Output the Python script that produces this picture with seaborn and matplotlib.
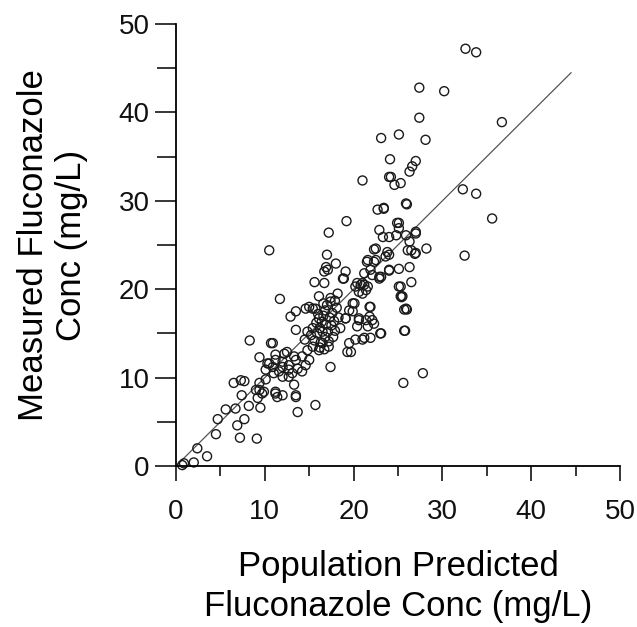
import matplotlib
matplotlib.use("Agg")
import matplotlib.pyplot as plt
import seaborn as sns
import pandas as pd

# population predicted (x) vs measured (y) fluconazole conc
predicted = [
    0.7, 0.9, 2.0, 2.4, 3.5, 4.5, 4.7, 5.6, 6.7, 6.9, 7.2, 7.4, 7.7, 8.2, 9.1, 9.2, 9.5,
    7.3, 7.7, 6.5, 9.4, 9.9, 11.2, 11.4, 10.1, 13.3, 13.5, 13.7, 15.7, 8.3, 10.7, 9.4,
    11.2, 10.3, 10.9, 12.5, 13.3, 12.0, 11.6, 12.7, 13.7,
    10.5, 17.0, 18.0, 16.9, 17.1, 16.7, 19.1, 18.9, 21.5, 22.3, 21.2, 22.1, 15.6, 16.7,
    20.4, 21.2, 20.6, 18.2, 16.1, 17.4, 11.7, 15.0, 13.5, 12.9, 19.9, 21.8, 19.5, 20.6,
    21.4, 22.1, 20.4, 21.6, 19.1, 13.5, 10.9, 19.5, 20.2, 21.2, 19.3, 17.4,
    10.5, 11.2, 12.2, 12.0, 12.7, 13.5, 14.2, 14.8, 15.4, 16.1, 16.5, 17.2, 13.1, 14.2,
    12.0, 12.7, 11.0, 10.1, 9.4, 9.0, 9.7, 11.2, 12.0, 13.5, 15.0, 14.6,
    15.6, 15.9, 16.2, 16.4, 16.6, 16.8, 17.0, 17.3, 17.5, 17.1, 16.8, 16.3, 15.8, 16.0,
    17.6, 17.8, 17.9, 18.1, 17.2, 16.5, 16.9, 16.1, 15.4, 15.2, 17.4, 16.6, 18.3, 16.2,
    17.7, 15.7, 14.8, 14.5, 18.5, 16.7, 17.9,
    18.8, 14.6, 15.4, 20.2, 21.4, 19.9, 20.6, 21.8, 22.3, 19.1, 21.0, 22.9, 21.0, 21.6,
    25.3, 25.5, 20.1, 21.9, 23.0, 25.7, 21.0, 21.9, 19.7, 25.7,
    21.0, 25.3, 25.9, 22.7, 23.4, 19.2, 17.2, 25.1, 22.9, 23.3, 24.0, 24.8, 25.9, 27.0,
    26.3, 26.5, 27.0, 28.2, 22.5, 23.8, 23.6, 21.6, 22.5, 24.0, 25.1, 26.3, 21.9, 22.9,
    20.8, 25.1, 26.5, 25.3, 25.9, 24.0, 24.6, 24.9, 22.3, 24.0,
    27.4, 30.2, 27.4, 36.7, 23.1, 25.1, 28.1, 24.1, 27.0, 26.6, 26.3, 24.2, 32.3, 33.8,
    35.6, 23.4, 26.0, 25.1, 27.0, 32.5, 26.1, 23.1, 25.4, 26.0, 23.1, 25.8, 27.8, 25.6,
    32.6, 33.8, 26.9, 24.0,
]
measured = [
    0.1, 0.3, 0.4, 2.0, 1.1, 3.6, 5.3, 6.4, 6.5, 4.6, 3.2, 8.0, 5.3, 6.8, 3.1, 7.7, 6.6,
    9.7, 9.6, 9.4, 8.6, 8.4, 8.4, 7.8, 9.8, 9.2, 7.8, 6.1, 6.9, 14.2, 13.9, 12.3,
    12.6, 11.6, 11.2, 12.9, 12.4, 11.8, 10.7, 10.9, 11.0,
    24.4, 23.9, 22.9, 22.5, 22.2, 22.0, 22.0, 21.2, 23.1, 23.1, 21.8, 21.6, 20.8, 20.7,
    20.7, 20.5, 19.7, 19.5, 19.2, 19.0, 18.9, 18.0, 17.5, 16.9, 18.4, 18.0, 17.6, 16.7,
    16.5, 16.5, 15.8, 15.8, 16.7, 15.4, 13.9, 13.9, 14.3, 14.5, 12.9, 11.2,
    11.6, 12.0, 12.7, 11.2, 11.4, 12.0, 12.4, 13.1, 13.5, 13.1, 13.9, 13.5, 10.5, 10.7,
    10.1, 10.1, 10.5, 10.9, 9.4, 8.6, 8.2, 8.2, 8.0, 8.0, 12.0, 11.4,
    14.2, 15.0, 15.6, 16.3, 17.0, 17.6, 18.2, 16.8, 15.9, 15.2, 14.6, 14.0, 16.2, 17.2,
    17.3, 16.4, 15.3, 17.9, 14.1, 15.2, 16.0, 16.7, 15.6, 14.8, 18.6, 18.4, 16.8, 13.4,
    14.6, 17.8, 15.2, 14.3, 15.6, 13.2, 18.7,
    21.2, 17.8, 17.8, 20.3, 19.9, 17.5, 16.5, 16.9, 16.1, 16.7, 20.7, 21.2, 19.5, 20.3,
    20.3, 19.2, 18.4, 18.0, 15.0, 15.3, 14.3, 14.5, 12.9, 17.7,
    32.3, 32.0, 29.7, 29.0, 29.1, 27.7, 26.4, 27.5, 26.7, 25.9, 25.9, 26.1, 26.1, 26.5,
    25.4, 24.4, 24.1, 24.6, 24.6, 24.2, 23.7, 23.3, 23.3, 22.2, 22.3, 22.5, 22.2, 21.4,
    20.5, 20.3, 20.8, 19.2, 17.8, 32.7, 31.8, 27.5, 24.5, 23.9,
    42.8, 42.4, 39.4, 38.9, 37.1, 37.5, 36.9, 34.7, 34.5, 33.9, 33.3, 32.7, 31.3, 30.8,
    28.0, 29.2, 29.6, 26.9, 26.3, 23.8, 24.4, 21.4, 19.1, 17.7, 15.0, 15.3, 10.5, 9.4,
    47.2, 46.8, 24.0, 22.1,
]

# line of identity
identity_x = [0, 44.5]
identity_y = [0, 44.5]

x_ticks = [0, 10, 20, 30, 40, 50]
y_ticks = [0, 10, 20, 30, 40, 50]

df = pd.DataFrame({'Predicted': predicted, 'Measured': measured})

sns.set_style("ticks")
plt.rcParams['font.family'] = ['Liberation Sans', 'DejaVu Sans']

fig = plt.figure(figsize=(6.37, 6.27), dpi=100)
ax = fig.add_axes([176 / 637, (627 - 466) / 627, 444 / 637, 442 / 627])

ax.plot(identity_x, identity_y, color='#555555', linewidth=0.9, zorder=1)
sns.scatterplot(data=df, x='Predicted', y='Measured', ax=ax, marker='o', s=42,
                facecolor='none', edgecolor='#1a1a1a', linewidth=1.0, zorder=2,
                clip_on=False)

ax.set_xlim(0, 50)
ax.set_ylim(0, 50)
ax.set_xticks(x_ticks)
ax.set_yticks(y_ticks)
ax.set_xticks([5, 15, 25, 35, 45], minor=True)
ax.set_yticks([5, 15, 25, 35, 45], minor=True)

for side in ['top', 'right']:
    ax.spines[side].set_visible(False)
for side in ['left', 'bottom']:
    ax.spines[side].set_linewidth(1.3)
    ax.spines[side].set_color('black')

ax.tick_params(axis='x', which='major', length=11, width=1.1, pad=13, labelsize=20,
               colors='black', labelcolor='#111111')
ax.tick_params(axis='x', which='minor', length=7, width=1.1, colors='black')
ax.tick_params(axis='y', which='major', length=15, width=1.1, pad=4, labelsize=20,
               colors='black', labelcolor='#111111')
ax.tick_params(axis='y', which='minor', length=13.5, width=1.1, colors='black')

ax.set_xlabel('Population Predicted\nFluconazole Conc (mg/L)', fontsize=25,
              labelpad=18, linespacing=1.25, color='black')
ax.set_ylabel('Measured Fluconazole\nConc (mg/L)', fontsize=25,
              labelpad=22, linespacing=1.2, color='black')

fig.savefig('out.png', dpi=100)
